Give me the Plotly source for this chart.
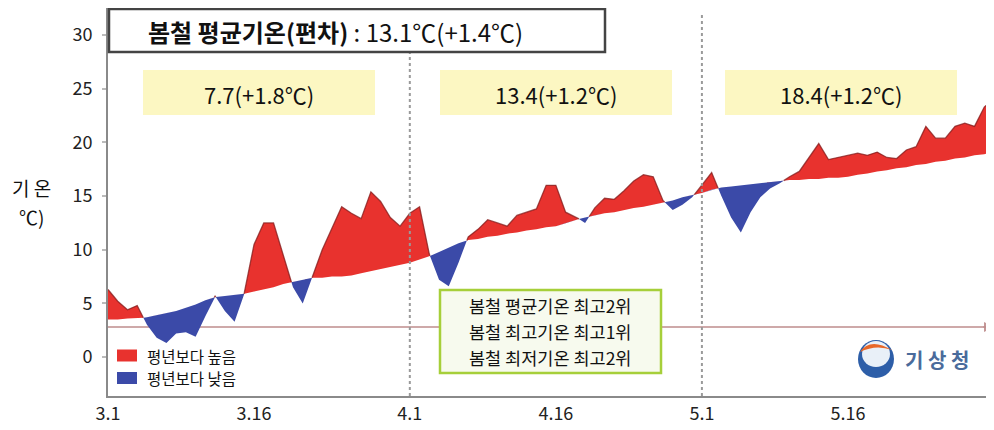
import plotly.graph_objects as go
import numpy as np

# ---- data (days from 3/1) ----
days = list(range(92))
actual = [6.3, 5.2, 4.4, 4.8, 3.0, 1.8, 1.3, 2.2, 2.3, 1.9,
          3.8, 5.7, 4.3, 3.3, 6.0, 10.5, 12.5, 12.5, 9.5, 6.5,
          5.0, 7.5, 10.0, 12.0, 14.0, 13.4, 12.9, 15.4, 14.5, 13.0,
          12.2, 13.4, 14.0, 9.6, 7.2, 6.6, 8.8, 11.2, 11.9, 12.8,
          12.5, 12.2, 13.2, 13.5, 13.8, 16.0, 16.0, 13.5, 13.1, 12.5,
          13.9, 14.8, 14.7, 15.5, 16.4, 17.0, 16.8, 14.6, 13.7, 14.2,
          14.9, 16.0, 17.2, 15.0, 13.0, 11.6, 13.5, 14.9, 15.7, 16.2,
          16.8, 17.3, 18.6, 19.9, 18.4, 18.6, 18.8, 19.0, 18.8, 19.1,
          18.6, 18.5, 19.3, 19.6, 21.5, 20.4, 20.4, 21.5, 21.8, 21.5,
          23.3, 24.1]
normal = [3.5, 3.5, 3.6, 3.6, 3.7, 3.9, 4.1, 4.3, 4.6, 4.9,
          5.3, 5.6, 5.7, 5.8, 5.9, 6.1, 6.3, 6.5, 6.8, 7.0,
          7.2, 7.4, 7.4, 7.5, 7.5, 7.6, 7.8, 8.0, 8.2, 8.4,
          8.6, 8.8, 9.1, 9.4, 9.8, 10.2, 10.6, 10.9, 11.0, 11.2,
          11.3, 11.5, 11.6, 11.8, 11.9, 12.1, 12.2, 12.5, 12.8, 13.0,
          13.2, 13.4, 13.5, 13.7, 13.9, 14.0, 14.2, 14.4, 14.6, 14.9,
          15.1, 15.3, 15.6, 15.8, 15.9, 16.0, 16.1, 16.2, 16.3, 16.4,
          16.5, 16.5, 16.6, 16.6, 16.7, 16.7, 16.8, 17.0, 17.1, 17.3,
          17.4, 17.6, 17.7, 17.9, 18.0, 18.2, 18.3, 18.5, 18.6, 18.8,
          18.9, 19.1]
tick_days = [0, 15, 31, 46, 61, 76]
tick_labels = ["3.1", "3.16", "4.1", "4.16", "5.1", "5.16"]
y_ticks = [0, 5, 10, 15, 20, 25, 30]
month_lines = [31, 61]
baseline_value = 2.8
title_text = "<b>봄철 평균기온(편차)</b> : 13.1℃(+1.4℃)"
month_texts = ["7.7(+1.8℃)", "13.4(+1.2℃)", "18.4(+1.2℃)"]
record_lines = ["봄철 평균기온 최고2위", "봄철 최고기온 최고1위", "봄철 최저기온 최고2위"]
legend_names = ["평년보다 높음", "평년보다 낮음"]
y_title_lines = ["기 온", "℃)"]

RED = "#e8322e"
BLUE = "#3b4aa8"
FONT = "Noto Sans CJK KR"

# ---- build grid with crossing points ----
a = np.array(actual, float)
n = np.array(normal, float)
d = np.array(days, float)
gx, ga, gn = [], [], []
for i in range(len(d)):
    gx.append(d[i]); ga.append(a[i]); gn.append(n[i])
    if i < len(d) - 1:
        f0 = a[i] - n[i]
        f1 = a[i + 1] - n[i + 1]
        if f0 * f1 < 0:
            t = f0 / (f0 - f1)
            xc = d[i] + t
            yc = n[i] + t * (n[i + 1] - n[i])
            gx.append(xc); ga.append(yc); gn.append(yc)
gx = np.array(gx); ga = np.array(ga); gn = np.array(gn)
hi = np.maximum(ga, gn)
lo = np.minimum(ga, gn)

fig = go.Figure()
fig.add_trace(go.Scatter(x=gx, y=gn, mode="lines", line=dict(width=0, color=RED),
                         showlegend=False, hoverinfo="skip"))
fig.add_trace(go.Scatter(x=gx, y=hi, mode="lines", line=dict(width=0, color=RED),
                         fill="tonexty", fillcolor=RED, showlegend=False, hoverinfo="skip"))
fig.add_trace(go.Scatter(x=gx, y=gn, mode="lines", line=dict(width=0, color=BLUE),
                         showlegend=False, hoverinfo="skip"))
fig.add_trace(go.Scatter(x=gx, y=lo, mode="lines", line=dict(width=0, color=BLUE),
                         fill="tonexty", fillcolor=BLUE, showlegend=False, hoverinfo="skip"))
outline = np.where(ga >= gn - 1e-9, ga, np.nan)
fig.add_trace(go.Scatter(x=gx, y=outline, mode="lines",
                         line=dict(width=1.3, color="rgba(130,25,25,0.75)"),
                         connectgaps=False, showlegend=False, hoverinfo="skip"))

# ---- geometry helpers (page pixel -> paper); page has an 8px body offset ----
OFF = 8
PAGE_W, PAGE_H = 994, 430
L, R, T, B = 108, 994, 8, 396
def xp(px):
    return (px - L) / (R - L)
def yp(py):
    return (B - py) / (B - T)

shapes = []
ann = []

# dotted month separators (the April line stops under the title box)
for md, top in zip(month_lines, [52, 14]):
    shapes.append(dict(type="line", xref="x", yref="paper", x0=md, x1=md, y0=0, y1=yp(top),
                       line=dict(color="#9a9a9a", width=2, dash="dot"), layer="above"))
# baseline arrow line
shapes.append(dict(type="line", xref="x", yref="y", x0=0, x1=90.5, y0=baseline_value, y1=baseline_value,
                   line=dict(color="rgba(190,140,140,0.75)", width=2), layer="below"))
ann.append(dict(x=91, y=baseline_value, xref="x", yref="y", ax=-12, ay=0, text="",
                showarrow=True, arrowhead=2, arrowsize=1, arrowwidth=2,
                arrowcolor="rgba(190,140,140,0.9)"))

# title box
shapes.append(dict(type="rect", xref="paper", yref="paper", x0=xp(109), x1=xp(605),
                   y0=yp(52), y1=yp(9), fillcolor="white",
                   line=dict(color="#444", width=2.5), layer="above"))
ann.append(dict(x=xp(146), y=yp(31), xref="paper", yref="paper", text=title_text,
                showarrow=False, xanchor="left", yanchor="middle",
                font=dict(family=FONT, size=24, color="#111")))

# yellow month boxes
box_x = [(143, 375), (440, 672), (725, 957)]
for (x0, x1), txt in zip(box_x, month_texts):
    shapes.append(dict(type="rect", xref="paper", yref="paper", x0=xp(x0), x1=xp(x1),
                       y0=yp(115), y1=yp(70), fillcolor="#fcf7c2", line=dict(width=0),
                       layer="below"))
    ann.append(dict(x=xp((x0 + x1) / 2), y=yp(94), xref="paper", yref="paper", text=txt,
                    showarrow=False, xanchor="center", yanchor="middle",
                    font=dict(family=FONT, size=22, color="#111")))

# green record box
shapes.append(dict(type="rect", xref="paper", yref="paper", x0=xp(440), x1=xp(661),
                   y0=yp(373), y1=yp(290), fillcolor="#f7faee",
                   line=dict(color="#a6cf3a", width=2.5), layer="above"))
for k, txt in enumerate(record_lines):
    ann.append(dict(x=xp(550), y=yp(305 + 26 * k), xref="paper", yref="paper", text=txt,
                    showarrow=False, xanchor="center", yanchor="middle",
                    font=dict(family=FONT, size=17.5, color="#111")))

# legend
for k, (nm, col) in enumerate(zip(legend_names, [RED, BLUE])):
    yc = 355.5 + 22.5 * k
    shapes.append(dict(type="rect", xref="paper", yref="paper", x0=xp(117), x1=xp(137),
                       y0=yp(yc + 6), y1=yp(yc - 6), fillcolor=col, line=dict(width=0),
                       layer="above"))
    ann.append(dict(x=xp(145), y=yp(yc), xref="paper", yref="paper", text=nm,
                    showarrow=False, xanchor="left", yanchor="middle",
                    font=dict(family=FONT, size=15.5, color="#111")))

# logo
shapes.append(dict(type="circle", xref="paper", yref="paper", x0=xp(858), x1=xp(894),
                   y0=yp(378), y1=yp(340), fillcolor="#2d5ea8", line=dict(width=0), layer="above"))
shapes.append(dict(type="circle", xref="paper", yref="paper", x0=xp(862), x1=xp(890),
                   y0=yp(367), y1=yp(341), fillcolor="#e9f0f8", line=dict(width=0), layer="above"))
shapes.append(dict(type="path", xref="paper", yref="paper",
                   path=f"M {xp(860)} {yp(352)} Q {xp(870)} {yp(337)} {xp(892)} {yp(350)} Q {xp(876)} {yp(344)} {xp(860)} {yp(352)} Z",
                   fillcolor="#e8682a", line=dict(width=0), layer="above"))
ann.append(dict(x=xp(903), y=yp(359), xref="paper", yref="paper", text="<b>기 상 청</b>",
                showarrow=False, xanchor="left", yanchor="middle",
                font=dict(family=FONT, size=20, color="#4a6b9b")))

# y axis title
for k, txt in enumerate(y_title_lines):
    ann.append(dict(x=xp(31), y=yp(187 + 29 * k), xref="paper", yref="paper", text=txt,
                    showarrow=False, xanchor="center", yanchor="middle",
                    font=dict(family=FONT, size=19, color="#111")))

fig.update_layout(
    width=PAGE_W - OFF, height=PAGE_H - OFF, autosize=False,
    margin=dict(l=L - OFF, r=PAGE_W - R, t=T - OFF, b=PAGE_H - B, autoexpand=False),
    paper_bgcolor="white", plot_bgcolor="white",
    shapes=shapes, annotations=ann, showlegend=False,
    font=dict(family=FONT, color="#222"),
)
fig.update_xaxes(range=[0, 91], tickvals=tick_days, ticktext=tick_labels, automargin=False,
                 showgrid=False, zeroline=False, showline=True, linecolor="#8a8a8a",
                 linewidth=2, mirror=True, ticks="", tickfont=dict(size=18, color="#222"))
fig.update_yaxes(range=[-3.63, 32.53], tickvals=y_ticks, showgrid=False, zeroline=False,
                 automargin=False,
                 showline=True, linecolor="#8a8a8a", linewidth=2, mirror=True,
                 ticks="outside", ticklen=4, tickcolor="#bbb", tickwidth=2,
                 ticklabelstandoff=6, tickfont=dict(size=18, color="#222"))

fig.write_html("out.html")
